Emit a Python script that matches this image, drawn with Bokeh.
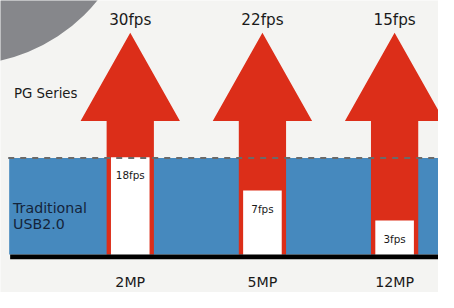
import math
from bokeh.plotting import figure
from bokeh.models import Range1d, LogScale, ColumnDataSource
from bokeh.core.properties import value
from bokeh.embed import file_html
from bokeh.resources import INLINE

# ---- data ----
categories = ["2MP", "5MP", "12MP"]
pg_fps = [30, 22, 15]
usb2_fps = [18, 7, 3]
pg_name = "PG Series"
usb2_name_lines = ["Traditional", "USB2.0"]

# ---- styles / layout ----
BG = "#f4f4f2"
RED = "#dc2e19"
BLUE = "#4689be"
GRAY = "#86878b"
FONT = "DejaVu Sans"

W, H = 438, 292                 # figure size
RW, RH = 454.0, 308.0           # layout design canvas
S = H / RH                      # font scale
X0, DX = 134.5, 137.0           # design px of first category, px per category
def px(xw):                     # design pixel -> x data
    return (xw - X0) / DX

FPS_BASE_Y = 273.0
FPS_PX_PER_LN = 37.24

p = figure(width=W, height=H, output_backend="svg", toolbar_location=None,
           x_range=Range1d(px(0), px(RW)), y_range=Range1d(RH, 0),
           min_border=0, outline_line_color=None)
p.extra_y_ranges = {"fps": Range1d(math.exp(-(RH - FPS_BASE_Y) / FPS_PX_PER_LN),
                                   math.exp(FPS_BASE_Y / FPS_PX_PER_LN))}
p.extra_y_scales = {"fps": LogScale()}
p.axis.visible = False
p.grid.visible = False
p.background_fill_color = BG
p.border_fill_color = BG

def fs(v):
    return f"{v * S:.1f}px"

# decorative grey disc top-left
p.ellipse(x=[px(-40)], y=[-111], width=358 / DX, height=358,
          fill_color=GRAY, line_color=None)

# blue band (traditional USB2.0 level)
p.quad(left=[px(9)], right=[px(470)], top=[166], bottom=[268],
       fill_color=BLUE, line_color=None)

# red arrows (PG series)
HW, SW = 51.5 / DX, 24.5 / DX
TIP, HEAD_BASE, BASE = 34, 127, 268
xs, ys = [], []
for i, _ in enumerate(categories):
    xs.append([i, i + HW, i + SW, i + SW, i - SW, i - SW, i - HW])
    ys.append([TIP, HEAD_BASE, HEAD_BASE, BASE, BASE, HEAD_BASE, HEAD_BASE])
p.patches(xs=xs, ys=ys, fill_color=RED, line_color=None)

# white bars (USB2.0 fps)
idx = list(range(len(categories)))
src = ColumnDataSource(dict(x=idx, top=usb2_fps,
                            lab=[f"{v}fps" for v in usb2_fps]))
p.vbar(x="x", top="top", bottom=1, width=40 / DX, source=src,
       fill_color="white", line_color=None, y_range_name="fps")

# baseline
p.quad(left=[px(10)], right=[px(470)], top=[268], bottom=[273],
       fill_color="black", line_color=None)

# dashed level line
p.segment(x0=[px(8)], x1=[px(470)], y0=[166], y1=[166],
          line_color="#6a6a6a", line_width=2, line_dash="6 6")

# labels in white bars
p.text(x="x", y="top", text="lab", source=src, y_range_name="fps",
       y_offset=18, text_align="center", text_baseline="alphabetic",
       text_font=value(FONT), text_font_size=fs(11), text_color="#1a1a1a")

# PG fps labels
p.text(x=idx, y=[21] * len(idx), text=[f"{v}fps" for v in pg_fps],
       text_align="center", text_baseline="alphabetic",
       text_font=value(FONT), text_font_size=fs(16), text_color="#1a1a1a")

# category labels
p.text(x=idx, y=[297] * len(idx), text=categories,
       text_align="center", text_baseline="alphabetic",
       text_font=value(FONT), text_font_size=fs(15), text_color="#1a1a1a")

# series labels
p.text(x=[px(14)], y=[98.5], text=[pg_name], text_align="left",
       text_baseline="alphabetic", text_font=value(FONT),
       text_font_size=fs(14), text_color="#1a1a1a")
p.text(x=[px(13)] * 2, y=[219, 236], text=usb2_name_lines, text_align="left",
       text_baseline="alphabetic", text_font=value(FONT),
       text_font_size=fs(15), text_color="#14243a")

open("out.html", "w").write(file_html(p, INLINE))
